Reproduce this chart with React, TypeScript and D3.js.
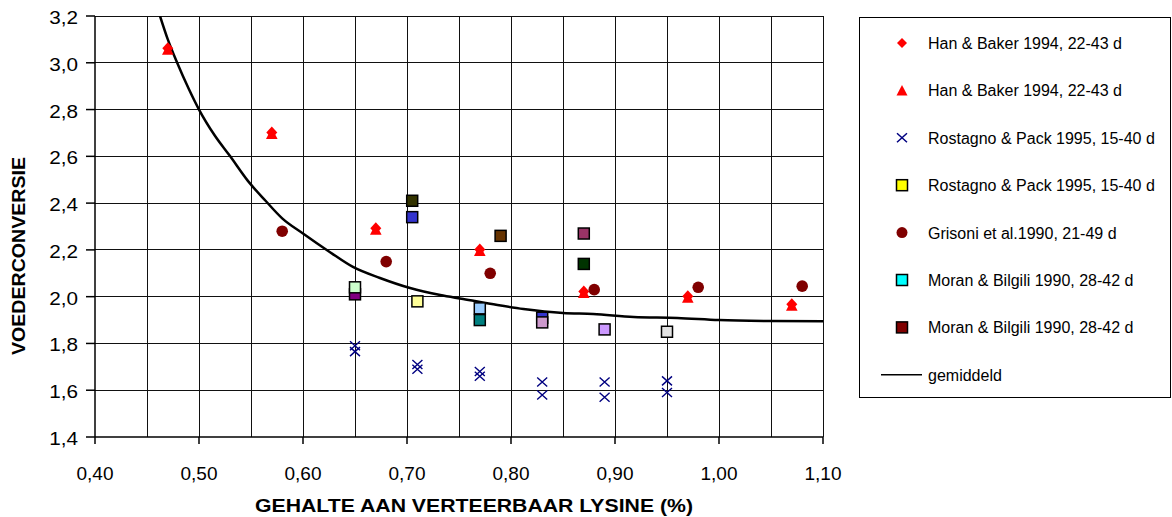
import React from "react";
import * as d3 from "d3";

// Han & Baker 1994 (diamonds and triangles share the same points)
const hanX = [0.47, 0.57, 0.67, 0.77, 0.87, 0.97, 1.07];
const hanY = [3.06, 2.7, 2.29, 2.2, 2.02, 2.0, 1.965];

// Rostagno & Pack 1995, crosses
const rostCrossX = [0.65, 0.65, 0.71, 0.71, 0.77, 0.77, 0.83, 0.83, 0.89, 0.89, 0.95, 0.95];
const rostCrossY = [1.79, 1.765, 1.71, 1.69, 1.68, 1.66, 1.635, 1.58, 1.635, 1.57, 1.64, 1.59];

// Rostagno & Pack 1995, squares
const rostSqX = [0.65, 0.65, 0.71, 0.77, 0.77, 0.83, 0.83, 0.89, 0.95];
const rostSqY = [2.01, 2.04, 1.98, 1.95, 1.9, 1.91, 1.89, 1.86, 1.85];

// Grisoni et al. 1990
const grisX = [0.58, 0.68, 0.78, 0.88, 0.98, 1.08];
const grisY = [2.28, 2.15, 2.1, 2.03, 2.04, 2.045];

// Moran & Bilgili 1990 (two groups)
const moranAX = [0.705, 0.79, 0.87];
const moranAY = [2.41, 2.26, 2.27];
const moranBX = [0.705, 0.87];
const moranBY = [2.34, 2.14];

// gemiddeld
const avgX = [0.4625, 0.47, 0.479, 0.49, 0.5, 0.515, 0.53, 0.547, 0.564, 0.58, 0.6, 0.626, 0.648, 0.674,
  0.703, 0.732, 0.754, 0.787, 0.812, 0.85, 0.879, 0.918, 0.96, 1.0, 1.05, 1.1];
const avgY = [3.2, 3.1, 3.0, 2.89, 2.8, 2.69, 2.6, 2.495, 2.41, 2.335, 2.27, 2.19, 2.127, 2.08,
  2.037, 2.007, 1.99, 1.964, 1.947, 1.93, 1.926, 1.913, 1.909, 1.9, 1.896, 1.895];

const xTicks = [0.4, 0.5, 0.6, 0.7, 0.8, 0.9, 1.0, 1.1];
const xGrid = [0.45, 0.5, 0.55, 0.6, 0.65, 0.7, 0.75, 0.8, 0.85, 0.9, 0.95, 1.0, 1.05, 1.1];
const yTicks = [1.4, 1.6, 1.8, 2.0, 2.2, 2.4, 2.6, 2.8, 3.0, 3.2];

const legendLabels = [
  "Han & Baker 1994, 22-43 d",
  "Han & Baker 1994, 22-43 d",
  "Rostagno & Pack 1995, 15-40 d",
  "Rostagno & Pack 1995, 15-40 d",
  "Grisoni et al.1990, 21-49 d",
  "Moran & Bilgili 1990, 28-42 d",
  "Moran & Bilgili 1990, 28-42 d",
  "gemiddeld",
];

// per-point fills (Excel "vary colours by point")
const rostSqColors = ["#800080", "#ccffcc", "#ffff99", "#99ccff", "#008080", "#3333cc", "#cc99cc", "#cc99ff", "#e3e3e3"];
const moranAColors = ["#333300", "#663300", "#993366"];
const moranBColors = ["#3333cc", "#003300"];

const W = 1172;
const H = 517;
const font = "'Liberation Sans', Arial, sans-serif";

const x = d3.scaleLinear().domain([0.4, 1.1]).range([95, 823]);
const y = d3.scaleLinear().domain([1.4, 3.2]).range([437, 16]);
const fmt = (d: number, n: number) => d.toFixed(n).replace(".", ",");

const diamond = "M0,-6.5L5.5,-0.5L0,5.5L-5.5,-0.5Z";
const triangle = "M0,-5L5.8,6L-5.8,6Z";
const cross = "M-5,-4.5L5,4.5M-5,4.5L5,-4.5";

const Square = ({ cx, cy, fill }: { cx: number; cy: number; fill: string }) => (
  <rect x={cx - 5.5} y={cy - 5.5} width={11} height={11} fill={fill} stroke="#000" strokeWidth={1.5} />
);

export default function App() {
  const line = d3
    .line<number>()
    .x((d) => x(d))
    .y((_, i) => y(avgY[i]))
    .curve(d3.curveMonotoneX);

  const legendRowY = (i: number) => 43 + i * 47.4;

  const legendMarker = (i: number, cy: number) => {
    const cx = 902;
    switch (i) {
      case 0:
        return <path d="M0,-5L5,0L0,5L-5,0Z" transform={`translate(${cx},${cy})`} fill="#ff0000" />;
      case 1:
        return <path d="M0,-5.5L5.5,5L-5.5,5Z" transform={`translate(${cx},${cy})`} fill="#ff0000" />;
      case 2:
        return <path d={cross} transform={`translate(${cx},${cy})`} stroke="#000080" strokeWidth={1.5} fill="none" />;
      case 3:
        return <Square cx={cx} cy={cy} fill="#ffff00" />;
      case 4:
        return <circle cx={cx} cy={cy} r={5.5} fill="#800000" />;
      case 5:
        return <Square cx={cx} cy={cy} fill="#00ffff" />;
      case 6:
        return <Square cx={cx} cy={cy} fill="#800000" />;
      default:
        return <line x1={881} x2={922} y1={cy} y2={cy} stroke="#000" strokeWidth={1.5} />;
    }
  };

  return (
    <svg width={W} height={H} style={{ position: "absolute", left: 0, top: 0, background: "#fff" }} fontFamily={font}>
      <defs>
        <clipPath id="plot">
          <rect x={95} y={16} width={728} height={421} />
        </clipPath>
      </defs>

      {/* grid */}
      <g stroke="#111" strokeWidth={1} shapeRendering="crispEdges">
        {xGrid.map((d) => (
          <line key={"gx" + d} x1={x(d)} x2={x(d)} y1={y(3.2)} y2={y(1.4)} />
        ))}
        {yTicks.slice(1).map((d) => (
          <line key={"gy" + d} x1={x(0.4)} x2={x(1.1)} y1={y(d)} y2={y(d)} />
        ))}
      </g>

      {/* axes */}
      <g stroke="#000" strokeWidth={1.5}>
        <line x1={x(0.4)} x2={x(0.4)} y1={y(3.2)} y2={y(1.4)} />
        <line x1={x(0.4)} x2={x(1.1)} y1={y(1.4)} y2={y(1.4)} />
        {xTicks.map((d) => (
          <line key={"tx" + d} x1={x(d)} x2={x(d)} y1={y(1.4)} y2={y(1.4) + 7} />
        ))}
        {yTicks.map((d) => (
          <line key={"ty" + d} x1={x(0.4) - 9} x2={x(0.4)} y1={y(d)} y2={y(d)} />
        ))}
      </g>
      <g fontSize={19} fill="#000">
        {xTicks.map((d) => (
          <text key={"lx" + d} x={x(d)} y={480} textAnchor="middle">
            {fmt(d, 2)}
          </text>
        ))}
        {yTicks.map((d) => (
          <text
            key={"ly" + d}
            transform={`translate(78,${y(d) + 8}) scale(1.15,1)`}
            textAnchor="end"
            fontSize={18}
          >
            {fmt(d, 1)}
          </text>
        ))}
      </g>

      {/* axis titles */}
      <text x={474} y={512} textAnchor="middle" fontSize={18} fontWeight="bold" textLength={438} lengthAdjust="spacingAndGlyphs">
        GEHALTE AAN VERTEERBAAR LYSINE (%)
      </text>
      <text
        transform="translate(25,256) rotate(-90)"
        textAnchor="middle"
        fontSize={19}
        fontWeight="bold"
        textLength={198}
        lengthAdjust="spacingAndGlyphs"
      >
        VOEDERCONVERSIE
      </text>

      {/* average curve */}
      <g clipPath="url(#plot)">
        <path d={line(avgX) || ""} fill="none" stroke="#000" strokeWidth={2.5} />
      </g>

      {/* markers */}
      <g>
        {hanX.map((d, i) => (
          <path key={"ht" + i} d={triangle} transform={`translate(${x(d)},${y(hanY[i])})`} fill="#ff0000" />
        ))}
        {hanX.map((d, i) => (
          <path key={"hd" + i} d={diamond} transform={`translate(${x(d)},${y(hanY[i])})`} fill="#ff0000" />
        ))}
        {rostCrossX.map((d, i) => (
          <path
            key={"rc" + i}
            d={cross}
            transform={`translate(${x(d)},${y(rostCrossY[i])})`}
            stroke="#000080"
            strokeWidth={1.4}
            fill="none"
          />
        ))}
        {rostSqX.map((d, i) => (
          <Square key={"rs" + i} cx={x(d)} cy={y(rostSqY[i])} fill={rostSqColors[i]} />
        ))}
        {grisX.map((d, i) => (
          <circle key={"g" + i} cx={x(d)} cy={y(grisY[i])} r={5.8} fill="#800000" />
        ))}
        {moranAX.map((d, i) => (
          <Square key={"ma" + i} cx={x(d)} cy={y(moranAY[i])} fill={moranAColors[i]} />
        ))}
        {moranBX.map((d, i) => (
          <Square key={"mb" + i} cx={x(d)} cy={y(moranBY[i])} fill={moranBColors[i]} />
        ))}
      </g>

      {/* legend */}
      <rect x={859.5} y={17.5} width={311} height={380} fill="#fff" stroke="#000" strokeWidth={1} />
      {legendLabels.map((label, i) => {
        const cy = legendRowY(i);
        return (
          <g key={"lg" + i}>
            {legendMarker(i, cy)}
            <text x={928} y={cy + 6} fontSize={16}>
              {label}
            </text>
          </g>
        );
      })}
    </svg>
  );
}
